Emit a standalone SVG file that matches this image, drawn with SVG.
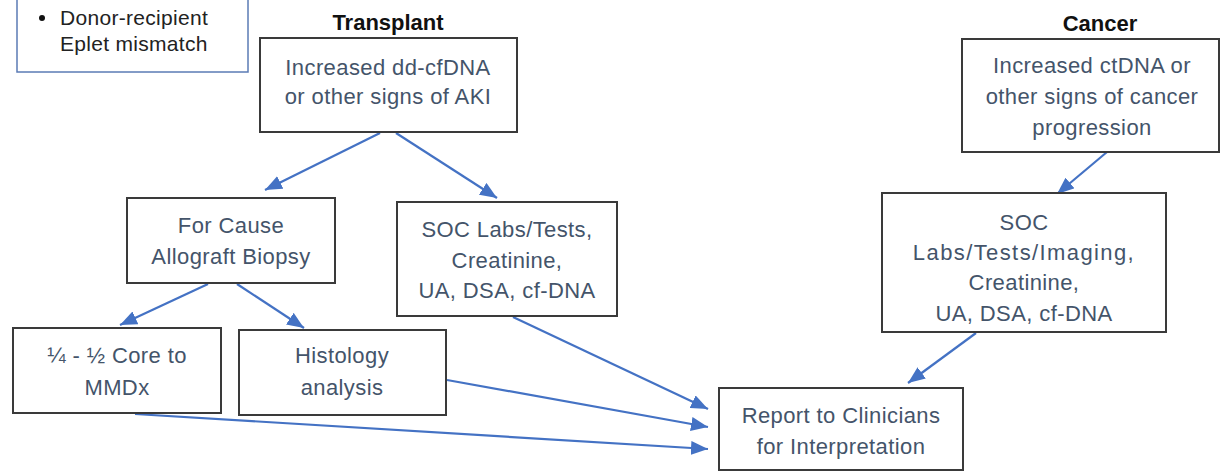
<svg xmlns="http://www.w3.org/2000/svg" width="1220" height="472" viewBox="0 0 1220 472">
  <style>
    .box { fill: #ffffff; stroke: #3a3a3a; stroke-width: 2; }
    .note { fill: #ffffff; stroke: #5b7bb5; stroke-width: 1.5; }
    .t { font-family: "Liberation Sans", Arial, sans-serif; font-size: 22px; fill: #44546a; text-anchor: middle; letter-spacing: 0.4px; }
    .wide { letter-spacing: 1.4px; }
    .nt { font-family: "Liberation Sans", Arial, sans-serif; font-size: 21px; fill: #222222; letter-spacing: 0.3px; }
    .h { font-family: "Liberation Sans", Arial, sans-serif; font-size: 22px; font-weight: bold; fill: #111111; text-anchor: middle; }
    .c { stroke: #4472c4; stroke-width: 2.2; fill: none; marker-end: url(#ah); }
  </style>
  <defs>
    <marker id="ah" markerUnits="userSpaceOnUse" markerWidth="18" markerHeight="14" refX="17" refY="7" orient="auto">
      <path d="M0,0 L17,7 L0,14 z" fill="#4472c4"/>
    </marker>
  </defs>
  <rect width="1220" height="472" fill="#ffffff"/>

  <g id="note">
    <rect class="note" x="17" y="-2" width="231" height="74"/>
    <circle cx="42" cy="18" r="3" fill="#111111"/>
    <text class="nt" x="60" y="25">Donor-recipient</text>
    <text class="nt" x="60" y="51">Eplet mismatch</text>
  </g>

  <g id="heading-transplant">
    <text class="h" x="388" y="30">Transplant</text>
  </g>
  <g id="heading-cancer">
    <text class="h" x="1100" y="31">Cancer</text>
  </g>

  <g id="connectors">
    <line class="c" x1="380" y1="133" x2="265" y2="190"/>
    <line class="c" x1="396" y1="133" x2="497" y2="198"/>
    <line class="c" x1="208" y1="284" x2="120" y2="325"/>
    <line class="c" x1="237" y1="284" x2="304" y2="328"/>
    <line class="c" x1="513" y1="317" x2="708" y2="409"/>
    <line class="c" x1="447" y1="380" x2="708" y2="427"/>
    <line class="c" x1="135" y1="414" x2="708" y2="449"/>
    <line class="c" x1="1107" y1="152" x2="1057" y2="194"/>
    <line class="c" x1="976" y1="333" x2="908" y2="383"/>
  </g>

  <g id="dd-cfdna">
    <rect class="box" x="260" y="38" width="257" height="94"/>
    <text class="t" x="388" y="75">Increased dd-cfDNA</text>
    <text class="t" x="388" y="104">or other signs of AKI</text>
  </g>

  <g id="biopsy">
    <rect class="box" x="127" y="198" width="208" height="85"/>
    <text class="t" x="231" y="233">For Cause</text>
    <text class="t" x="231" y="264">Allograft Biopsy</text>
  </g>

  <g id="soc-transplant">
    <rect class="box" x="397" y="202" width="220" height="114"/>
    <text class="t" x="507" y="237">SOC Labs/Tests,</text>
    <text class="t" x="507" y="268">Creatinine,</text>
    <text class="t" x="507" y="298">UA, DSA, cf-DNA</text>
  </g>

  <g id="mmdx">
    <rect class="box" x="13" y="328" width="208" height="85"/>
    <text class="t" x="117" y="363">¼ - ½ Core to</text>
    <text class="t" x="117" y="395">MMDx</text>
  </g>

  <g id="histology">
    <rect class="box" x="239" y="330" width="207" height="85"/>
    <text class="t" x="342" y="363">Histology</text>
    <text class="t" x="342" y="395">analysis</text>
  </g>

  <g id="report">
    <rect class="box" x="719" y="388" width="244" height="82"/>
    <text class="t" x="841" y="423">Report to Clinicians</text>
    <text class="t" x="841" y="454">for Interpretation</text>
  </g>

  <g id="ctdna">
    <rect class="box" x="962" y="39" width="257" height="113"/>
    <text class="t" x="1092" y="73">Increased ctDNA or</text>
    <text class="t" x="1092" y="104">other signs of cancer</text>
    <text class="t" x="1092" y="135">progression</text>
  </g>

  <g id="soc-cancer">
    <rect class="box" x="882" y="193" width="284" height="139"/>
    <text class="t" x="1024" y="230">SOC</text>
    <text class="t wide" x="1024" y="260">Labs/Tests/Imaging,</text>
    <text class="t" x="1024" y="290">Creatinine,</text>
    <text class="t" x="1024" y="321">UA, DSA, cf-DNA</text>
  </g>
</svg>
